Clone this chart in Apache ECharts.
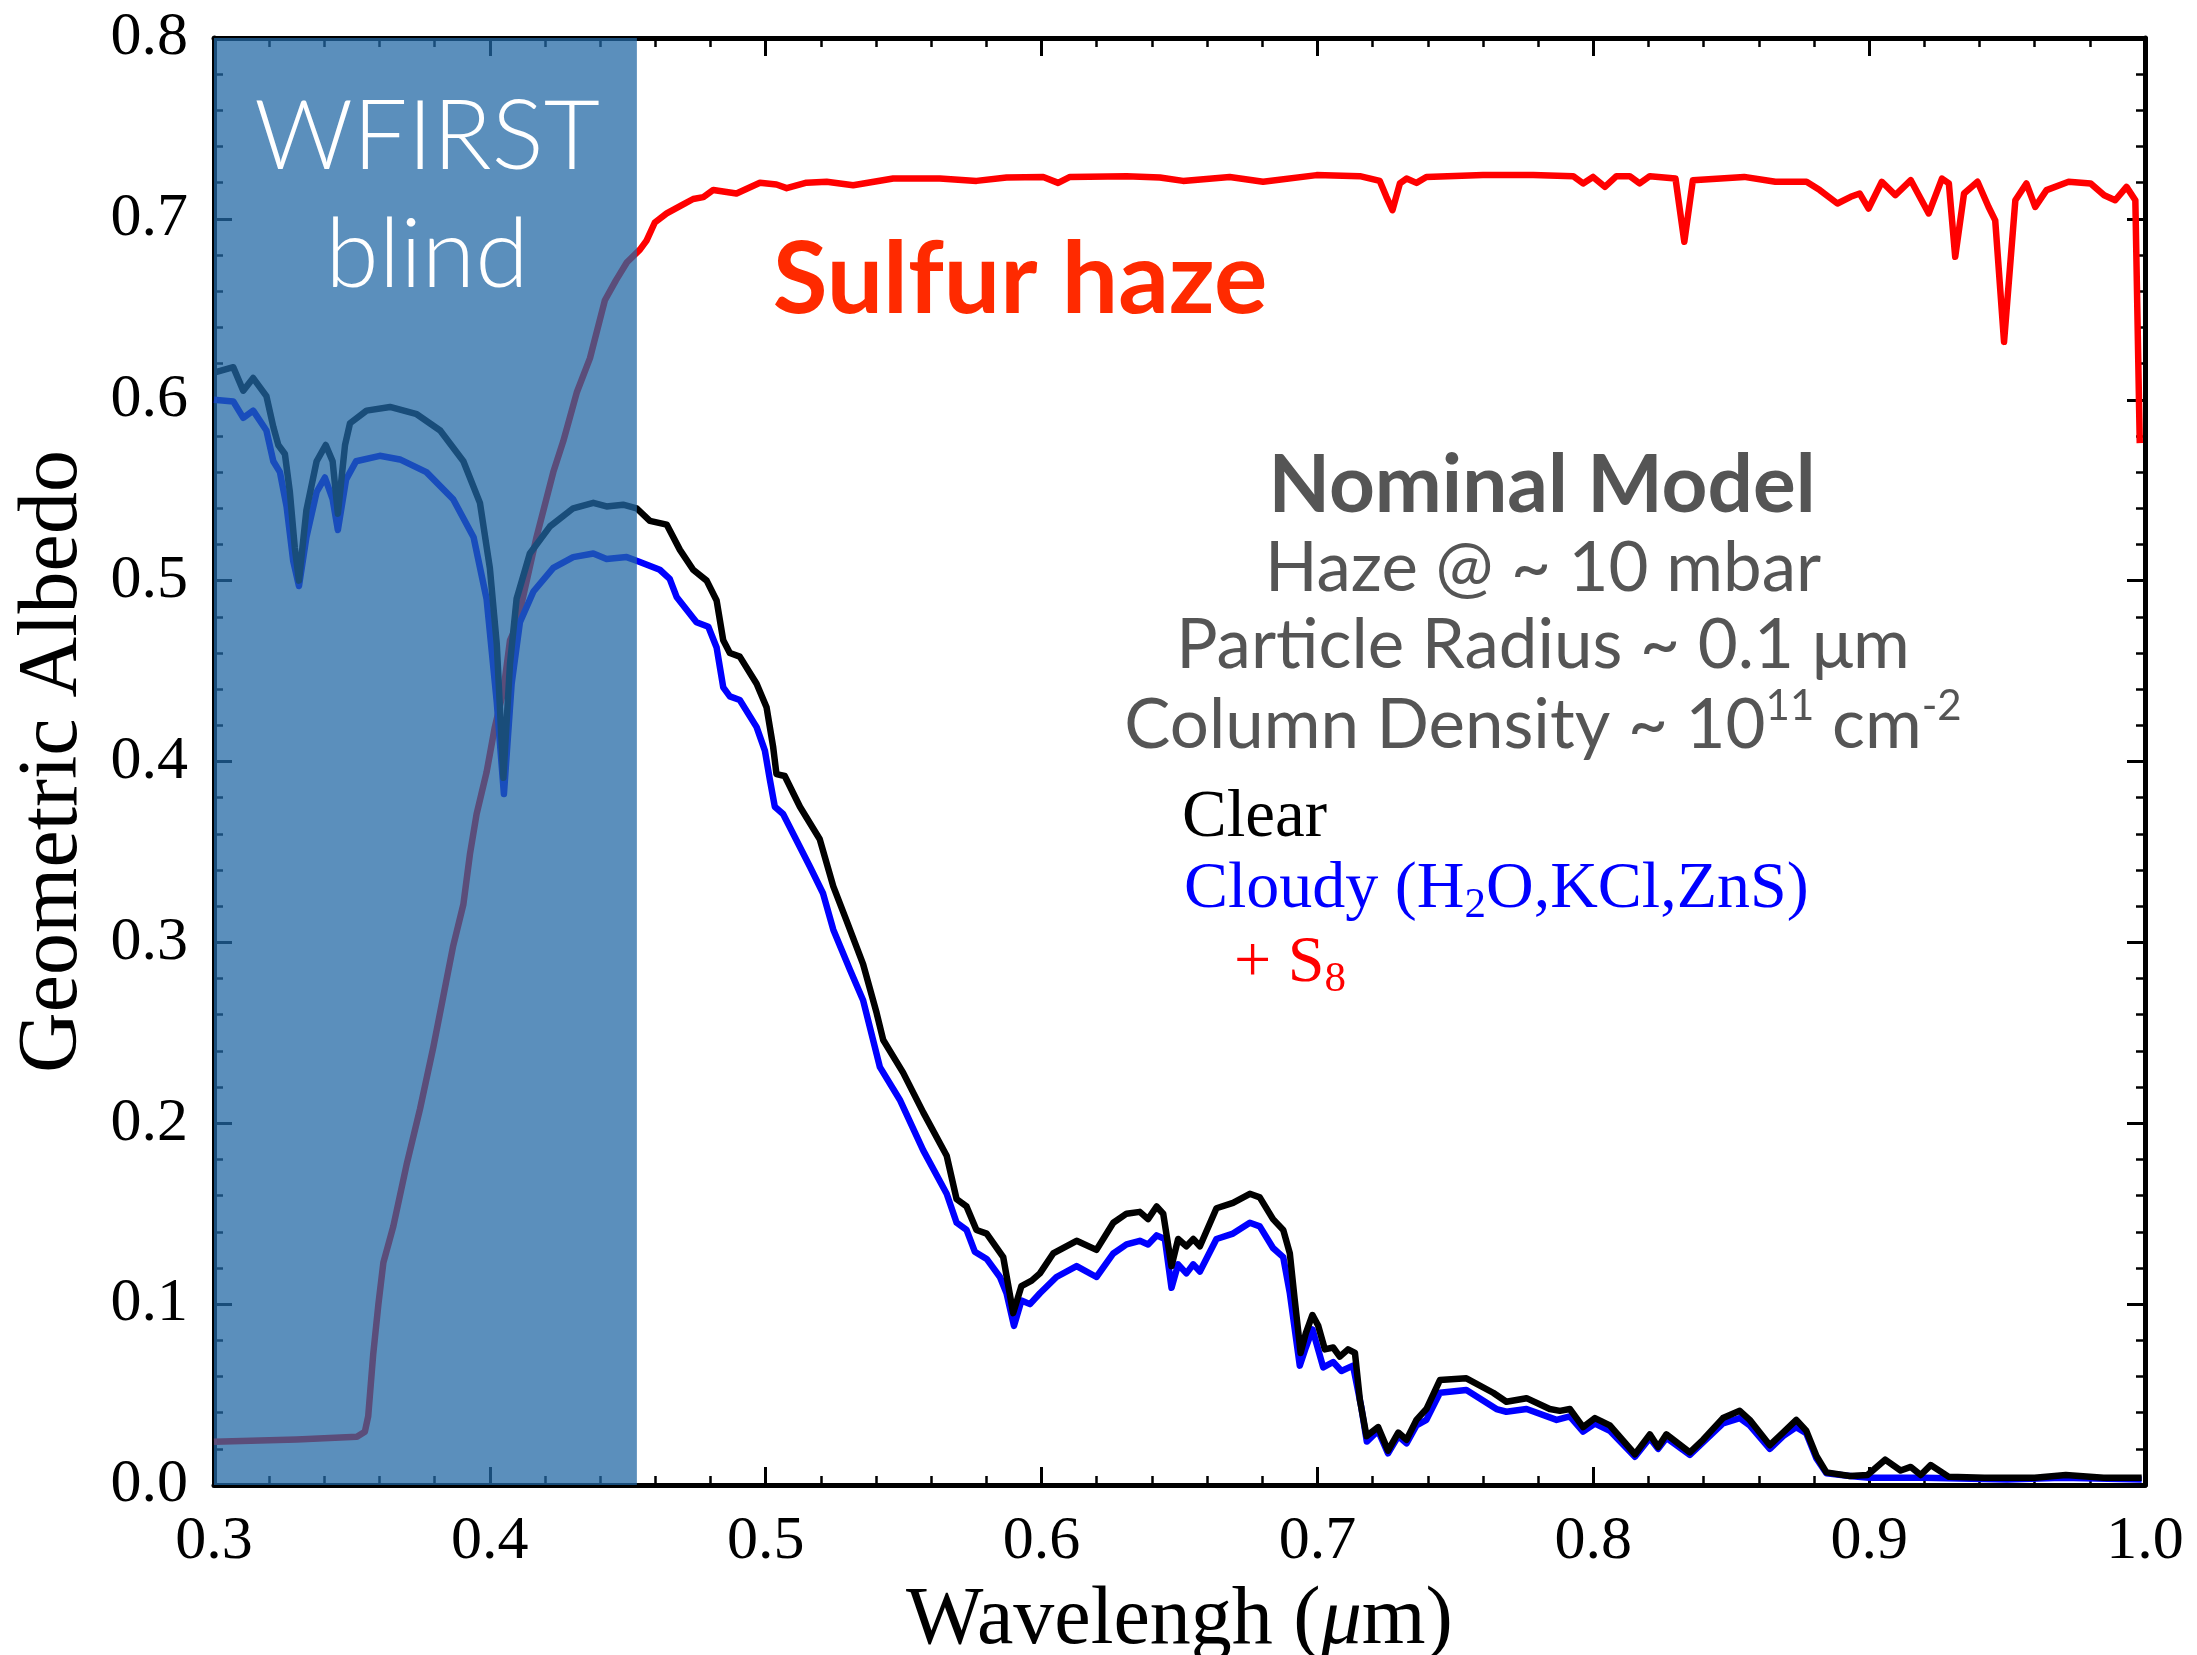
<!DOCTYPE html>
<html><head><meta charset="utf-8">
<script src="https://cdn.jsdelivr.net/npm/echarts@6/dist/echarts.min.js"></script>
<style>html,body{margin:0;padding:0;background:#fff}#c{width:2197px;height:1655px}</style>
</head><body><div id="c"></div>
<script>
// ---- data (wavelength in micron, geometric albedo) ----
const clearWl = [0.300,0.307,0.3106,0.3142,0.319,0.3215,0.3233,0.3257,0.3275,0.3293,0.3308,0.3335,0.3372,0.3405,0.343,0.3449,0.3475,0.3493,0.3553,0.3638,0.3735,0.382,0.3904,0.3964,0.400,0.4025,0.4049,0.4073,0.4097,0.4145,0.4218,0.4302,0.4375,0.4423,0.4483,0.4532,0.458,0.4641,0.4689,0.4737,0.4786,0.4822,0.4846,0.487,0.4906,0.4967,0.5003,0.5027,0.5039,0.5069,0.5124,0.5196,0.5245,0.5293,0.5353,0.5402,0.5426,0.5498,0.5571,0.5656,0.5692,0.5728,0.5764,0.5801,0.5861,0.5897,0.5927,0.5964,0.5994,0.6042,0.6127,0.6199,0.626,0.6308,0.6356,0.6386,0.6417,0.6441,0.6471,0.6495,0.6525,0.655,0.6574,0.6634,0.6694,0.6755,0.6791,0.6839,0.6876,0.690,0.6918,0.6939,0.6958,0.6982,0.7003,0.7027,0.7057,0.7081,0.7111,0.7136,0.7154,0.7178,0.722,0.7256,0.7293,0.7323,0.7359,0.7395,0.7444,0.754,0.7637,0.7685,0.7758,0.7842,0.7879,0.7915,0.7963,0.8006,0.806,0.8151,0.8205,0.8235,0.8265,0.835,0.8398,0.847,0.8531,0.8567,0.864,0.8688,0.8736,0.8772,0.8809,0.8845,0.893,0.8994,0.9058,0.9114,0.9151,0.9187,0.9223,0.9289,0.9418,0.960,0.9713,0.985,0.9988];
const clearAlb = [0.615,0.618,0.605,0.612,0.602,0.585,0.575,0.570,0.549,0.518,0.500,0.539,0.566,0.575,0.566,0.537,0.575,0.587,0.594,0.596,0.592,0.583,0.566,0.543,0.507,0.465,0.391,0.454,0.490,0.515,0.530,0.540,0.543,0.541,0.542,0.540,0.533,0.531,0.517,0.506,0.500,0.489,0.467,0.460,0.458,0.443,0.430,0.408,0.393,0.392,0.375,0.357,0.331,0.312,0.288,0.261,0.246,0.228,0.206,0.182,0.158,0.154,0.141,0.139,0.126,0.095,0.110,0.113,0.117,0.128,0.135,0.130,0.145,0.150,0.151,0.147,0.154,0.150,0.121,0.136,0.132,0.136,0.132,0.153,0.156,0.161,0.159,0.147,0.141,0.128,0.102,0.073,0.084,0.094,0.088,0.075,0.076,0.071,0.075,0.073,0.047,0.027,0.032,0.019,0.029,0.025,0.036,0.042,0.058,0.059,0.051,0.046,0.048,0.042,0.041,0.042,0.032,0.037,0.033,0.017,0.028,0.021,0.028,0.018,0.025,0.037,0.041,0.036,0.022,0.029,0.036,0.030,0.016,0.007,0.005,0.0055,0.014,0.008,0.010,0.0055,0.011,0.0045,0.004,0.004,0.0055,0.004,0.004];

const cloudyWl = [0.300,0.307,0.3106,0.3142,0.319,0.3215,0.3239,0.3263,0.3287,0.3308,0.3335,0.3372,0.3402,0.343,0.3449,0.3479,0.3515,0.3601,0.3674,0.377,0.3867,0.3941,0.3988,0.4025,0.4051,0.4079,0.4109,0.4158,0.423,0.4302,0.4375,0.4423,0.4496,0.4532,0.4616,0.4652,0.4677,0.4749,0.4792,0.4822,0.4846,0.487,0.4906,0.4967,0.4997,0.5015,0.5033,0.5063,0.516,0.5208,0.5245,0.5305,0.5353,0.5414,0.5486,0.5571,0.5656,0.5692,0.5728,0.5758,0.5801,0.5849,0.5873,0.590,0.5927,0.5958,0.5994,0.6054,0.6127,0.6199,0.626,0.6308,0.6356,0.6386,0.6417,0.6447,0.6471,0.6495,0.6525,0.655,0.6574,0.6634,0.6694,0.6755,0.6791,0.6839,0.6876,0.690,0.6936,0.6958,0.6982,0.7021,0.7057,0.7087,0.7129,0.7159,0.7179,0.722,0.7256,0.7293,0.7323,0.7359,0.7395,0.7444,0.754,0.7649,0.7685,0.7758,0.7867,0.7915,0.7963,0.8006,0.806,0.8151,0.8205,0.8235,0.8265,0.835,0.847,0.8531,0.8567,0.864,0.8688,0.8736,0.8772,0.8809,0.8845,0.893,0.900,0.920,0.950,0.970,0.9988];
const cloudyAlb = [0.600,0.599,0.590,0.594,0.583,0.566,0.560,0.541,0.511,0.497,0.524,0.549,0.557,0.545,0.528,0.556,0.566,0.569,0.567,0.560,0.545,0.524,0.490,0.433,0.382,0.443,0.477,0.494,0.507,0.513,0.515,0.512,0.513,0.511,0.506,0.501,0.491,0.477,0.4745,0.463,0.441,0.436,0.434,0.419,0.406,0.390,0.375,0.371,0.342,0.327,0.307,0.285,0.268,0.231,0.213,0.185,0.161,0.145,0.141,0.129,0.125,0.115,0.106,0.088,0.102,0.100,0.106,0.115,0.121,0.115,0.128,0.133,0.135,0.133,0.138,0.136,0.109,0.122,0.117,0.122,0.118,0.136,0.139,0.145,0.143,0.131,0.126,0.106,0.066,0.076,0.086,0.065,0.068,0.063,0.066,0.043,0.024,0.030,0.0175,0.027,0.023,0.033,0.036,0.051,0.0525,0.042,0.0405,0.042,0.036,0.038,0.0295,0.034,0.030,0.0156,0.026,0.020,0.026,0.0166,0.034,0.037,0.033,0.020,0.027,0.032,0.0286,0.0147,0.0065,0.005,0.004,0.004,0.003,0.004,0.003];

const s8Wl = [0.300,0.330,0.3518,0.3547,0.3559,0.3577,0.3596,0.3614,0.365,0.3698,0.3747,0.3795,0.3831,0.3867,0.3904,0.3928,0.3952,0.3988,0.4018,0.4049,0.4073,0.4097,0.4169,0.423,0.4266,0.4315,0.4363,0.4417,0.4457,0.4497,0.4544,0.4568,0.4598,0.4641,0.4701,0.4737,0.4774,0.481,0.4894,0.4979,0.5039,0.5076,0.5148,0.5221,0.5317,0.5462,0.5631,0.5764,0.5873,0.6006,0.606,0.6103,0.6308,0.6429,0.6513,0.6682,0.6803,0.6997,0.7154,0.7226,0.725,0.7272,0.7299,0.7323,0.7359,0.7395,0.760,0.7782,0.7927,0.7963,0.7999,0.8042,0.8084,0.8132,0.8168,0.8205,0.8298,0.833,0.8361,0.8547,0.866,0.8773,0.8821,0.8885,0.8933,0.8966,0.8998,0.9046,0.9095,0.9151,0.9216,0.9264,0.9289,0.9312,0.9344,0.9393,0.9433,0.9457,0.9489,0.953,0.957,0.9602,0.9643,0.9723,0.9803,0.9852,0.9892,0.9933,0.9965,0.9981];
const s8Alb = [0.0239,0.0252,0.0267,0.0295,0.038,0.072,0.100,0.123,0.143,0.177,0.208,0.242,0.270,0.298,0.321,0.349,0.371,0.394,0.419,0.439,0.467,0.475,0.524,0.560,0.577,0.604,0.623,0.655,0.666,0.676,0.683,0.688,0.698,0.703,0.708,0.711,0.712,0.716,0.714,0.720,0.719,0.717,0.720,0.7205,0.7186,0.7223,0.7223,0.721,0.7229,0.7232,0.7199,0.7232,0.7236,0.7229,0.721,0.7232,0.7205,0.7242,0.7236,0.721,0.7122,0.7048,0.7196,0.7223,0.7199,0.7232,0.7242,0.7242,0.7236,0.7196,0.7232,0.7177,0.7236,0.7236,0.7196,0.7236,0.7223,0.6873,0.7214,0.7232,0.7205,0.7205,0.7159,0.7085,0.7122,0.714,0.7057,0.7205,0.7131,0.7214,0.703,0.7223,0.7196,0.679,0.714,0.7205,0.7066,0.6992,0.632,0.7103,0.7196,0.7066,0.7159,0.7205,0.7196,0.7131,0.7103,0.7177,0.7103,0.576];

const blindRange = [0.300, 0.4533];
const xTickLabels = ['0.3','0.4','0.5','0.6','0.7','0.8','0.9','1.0'];
const yTickLabels = ['0.0','0.1','0.2','0.3','0.4','0.5','0.6','0.7','0.8'];

// ---- chart ----
const pairs = (xs, ys) => xs.map((x, i) => [x, ys[i]]);
const SERIF = '"Liberation Serif", "Times New Roman", serif';
const SANS = 'Lato, "Open Sans", "Noto Sans", sans-serif';
const xFmt = v => xTickLabels[Math.round((v - 0.3) / 0.1)] || '';
const yFmt = v => yTickLabels[Math.round(v / 0.1)] || '';

const tickCommon = {
  axisLine: {show: true, onZero: false, lineStyle: {color: '#000', width: 5}},
  axisTick: {show: true, inside: true, length: 18, lineStyle: {color: '#000', width: 3}},
  minorTick: {show: true, splitNumber: 5, length: 9, lineStyle: {color: '#000', width: 2.5}},
  splitLine: {show: false},
  minorSplitLine: {show: false}
};

const LW = 6.5;
const chart = echarts.init(document.getElementById('c'), null, {renderer: 'canvas'});
chart.setOption({
  animation: false,
  backgroundColor: '#ffffff',
  grid: {left: 214, right: 52, top: 38, bottom: 170, containLabel: false, outerBoundsMode: 'none'},
  xAxis: [
    Object.assign({
      type: 'value', min: 0.3, max: 1.0, interval: 0.1, position: 'bottom',
      axisLabel: {margin: 26, fontFamily: SERIF, fontSize: 62, color: '#000', formatter: xFmt, showMinLabel: true, showMaxLabel: true},
      name: '{n|Wavelengh (}{i|μ}{n|m)}', nameLocation: 'middle', nameGap: 95,
      nameTextStyle: {rich: {
        n: {fontFamily: SERIF, fontSize: 82, color: '#000'},
        i: {fontFamily: SERIF, fontSize: 82, fontStyle: 'italic', color: '#000'}
      }}
    }, tickCommon),
    Object.assign({
      type: 'value', min: 0.3, max: 1.0, interval: 0.1, position: 'top',
      axisLabel: {show: false}
    }, tickCommon)
  ],
  yAxis: [
    Object.assign({
      type: 'value', min: 0, max: 0.8, interval: 0.1, position: 'left',
      axisLabel: {margin: 26, fontFamily: SERIF, fontSize: 62, color: '#000', formatter: yFmt, showMinLabel: true, showMaxLabel: true},
      name: 'Geometric Albedo', nameLocation: 'middle', nameGap: 118,
      nameTextStyle: {fontFamily: SERIF, fontSize: 84, color: '#000'}
    }, tickCommon),
    Object.assign({
      type: 'value', min: 0, max: 0.8, interval: 0.1, position: 'right',
      axisLabel: {show: false}
    }, tickCommon)
  ],
  series: [
    {name: '+ S8', type: 'line', data: pairs(s8Wl, s8Alb), symbol: 'none', z: 2,
     lineStyle: {color: '#ff0000', width: LW, join: 'round'}},
    {name: 'Cloudy', type: 'line', data: pairs(cloudyWl, cloudyAlb), symbol: 'none', z: 3,
     lineStyle: {color: '#0000ff', width: LW, join: 'round'}},
    {name: 'Clear', type: 'line', data: pairs(clearWl, clearAlb), symbol: 'none', z: 4,
     lineStyle: {color: '#000000', width: LW, join: 'round'}},
    {name: 'blind', type: 'line', data: [[blindRange[0], 0]], symbol: 'none', z: 10,
     lineStyle: {opacity: 0},
     markArea: {silent: true, z: 10, itemStyle: {color: 'rgba(34,104,165,0.74)'},
       data: [[{xAxis: blindRange[0]}, {xAxis: blindRange[1]}]]}}
  ],
  graphic: [
    {type: 'text', z: 100, x: 427, y: 138, style: {text: 'WFIRST', fill: '#fff', font: '300 97px ' + SANS, textAlign: 'center', textVerticalAlign: 'middle', align: 'center', verticalAlign: 'middle'}},
    {type: 'text', z: 100, x: 427, y: 256, style: {text: 'blind', fill: '#fff', font: '300 97px ' + SANS, textAlign: 'center', textVerticalAlign: 'middle', align: 'center', verticalAlign: 'middle'}},
    {type: 'text', z: 100, x: 1020, y: 281, style: {text: 'Sulfur haze', fill: '#ff2a00', font: 'bold 100px ' + SANS, textAlign: 'center', textVerticalAlign: 'middle', align: 'center', verticalAlign: 'middle'}},
    {type: 'text', z: 100, x: 1542, y: 486, style: {text: 'Nominal Model', fill: '#555555', font: 'bold 80px ' + SANS, textAlign: 'center', textVerticalAlign: 'middle', align: 'center', verticalAlign: 'middle'}},
    {type: 'text', z: 100, x: 1543, y: 569, style: {text: 'Haze @ ~ 10 mbar', fill: '#555555', font: '69px ' + SANS, textAlign: 'center', textVerticalAlign: 'middle', align: 'center', verticalAlign: 'middle'}},
    {type: 'text', z: 100, x: 1543, y: 646, style: {text: 'Particle Radius ~ 0.1 μm', fill: '#555555', font: '69px ' + SANS, textAlign: 'center', textVerticalAlign: 'middle', align: 'center', verticalAlign: 'middle'}},
    {type: 'text', z: 100, x: 1543, y: 726, style: {
      text: '{m|Column Density ~ 10}{s|11}{m| cm}{s|-2}', textAlign: 'center', textVerticalAlign: 'middle', align: 'center', verticalAlign: 'middle',
      rich: {
        m: {fontFamily: SANS, fontSize: 69, fill: '#555555', color: '#555555', lineHeight: 82},
        s: {fontFamily: SANS, fontSize: 42, fill: '#555555', color: '#555555', lineHeight: 58, verticalAlign: 'top'}
      }}},
    {type: 'text', z: 100, x: 1182, y: 818, style: {text: 'Clear', fill: '#000000', font: '67px ' + SERIF, textAlign: 'left', textVerticalAlign: 'middle', align: 'left', verticalAlign: 'middle'}},
    {type: 'text', z: 100, x: 1184, y: 890, style: {
      text: '{m|Cloudy (H}{s|2}{m|O,KCl,ZnS)}', textAlign: 'left', textVerticalAlign: 'middle', align: 'left', verticalAlign: 'middle',
      rich: {
        m: {fontFamily: SERIF, fontSize: 66, fill: '#0000ff', color: '#0000ff', lineHeight: 74},
        s: {fontFamily: SERIF, fontSize: 43, fill: '#0000ff', color: '#0000ff', lineHeight: 40, verticalAlign: 'bottom'}
      }}},
    {type: 'text', z: 100, x: 1234, y: 964, style: {
      text: '{m|+ S}{s|8}', textAlign: 'left', textVerticalAlign: 'middle', align: 'left', verticalAlign: 'middle',
      rich: {
        m: {fontFamily: SERIF, fontSize: 66, fill: '#ff0000', color: '#ff0000', lineHeight: 74},
        s: {fontFamily: SERIF, fontSize: 43, fill: '#ff0000', color: '#ff0000', lineHeight: 40, verticalAlign: 'bottom'}
      }}}
  ]
});
</script>
</body></html>
